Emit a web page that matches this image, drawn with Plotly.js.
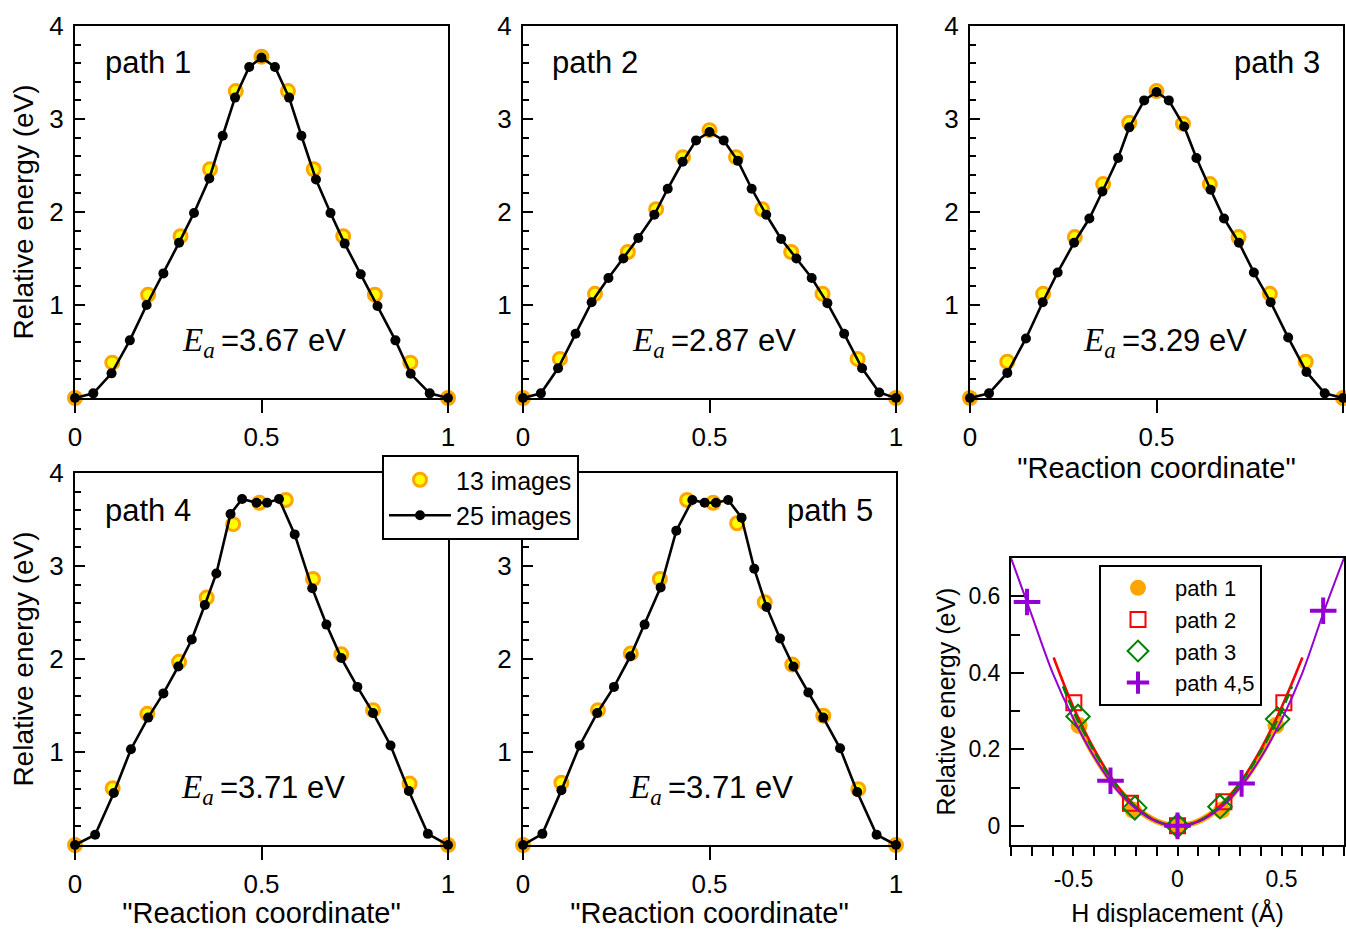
<!DOCTYPE html>
<html>
<head>
<meta charset="utf-8">
<script src="https://cdn.plot.ly/plotly-3.0.1.min.js"></script>
<style>html,body{margin:0;padding:0;background:#fff}#chart{width:1346px;height:929px}</style>
</head>
<body>
<div id="chart"></div>
<script>
// ---------------- data ----------------
const panelNames = ['path 1', 'path 2', 'path 3', 'path 4', 'path 5'];
const eaValues = ['3.67', '2.87', '3.29', '3.71', '3.71'];

// 25-image NEB paths (x = reaction coordinate, y = relative energy, eV)
const p1_x25 = [0, .049, .098, .147, .192, .237, .279, .319, .360, .396, .429, .467, .5, .536, .574, .607, .646, .685, .723, .766, .811, .859, .900, .951, 1];
const p1_y25 = [0, .05, .265, .62, 1.0, 1.34, 1.67, 1.99, 2.36, 2.82, 3.23, 3.56, 3.66, 3.56, 3.23, 2.82, 2.35, 1.99, 1.66, 1.33, .99, .62, .26, .05, 0];
const p2_x25 = [0, .048, .094, .141, .184, .229, .269, .309, .352, .388, .428, .464, .5, .538, .576, .613, .652, .692, .733, .774, .816, .861, .909, .955, 1];
const p2_y25 = [0, .05, .32, .69, 1.03, 1.29, 1.50, 1.72, 1.97, 2.25, 2.54, 2.77, 2.86, 2.77, 2.55, 2.25, 1.97, 1.71, 1.50, 1.29, 1.02, .69, .32, .06, 0];
const p3_x25 = [0, .051, .100, .150, .195, .235, .279, .320, .355, .397, .427, .467, .5, .533, .574, .607, .645, .681, .721, .761, .806, .853, .902, .951, 1];
const p3_y25 = [0, .05, .27, .64, 1.03, 1.35, 1.67, 1.93, 2.22, 2.58, 2.91, 3.20, 3.29, 3.20, 2.92, 2.58, 2.24, 1.93, 1.67, 1.35, 1.03, .65, .28, .05, 0];
const p4_x25 = [0, .054, .104, .150, .196, .237, .277, .313, .348, .379, .417, .448, .487, .515, .547, .589, .636, .674, .714, .757, .799, .846, .895, .946, 1];
const p4_y25 = [0, .11, .56, 1.03, 1.37, 1.63, 1.92, 2.21, 2.58, 2.92, 3.56, 3.72, 3.68, 3.68, 3.72, 3.34, 2.76, 2.37, 2.01, 1.70, 1.42, 1.07, .58, .12, 0];
const p5_x25 = [0, .052, .103, .152, .199, .244, .288, .326, .369, .411, .454, .487, .517, .550, .586, .620, .653, .689, .725, .765, .805, .850, .896, .948, 1];
const p5_y25 = [0, .12, .59, 1.07, 1.42, 1.70, 2.03, 2.37, 2.77, 3.38, 3.71, 3.68, 3.68, 3.71, 3.52, 2.97, 2.56, 2.22, 1.92, 1.64, 1.37, 1.04, .57, .11, 0];

// 13-image NEB paths
const p1_x13 = [0, .1, .196, .283, .362, .431, .5, .571, .640, .719, .804, .899, 1];
const p1_y13 = [0, .38, 1.11, 1.74, 2.46, 3.30, 3.67, 3.30, 2.46, 1.74, 1.11, .38, 0];
const p2_x13 = [0, .099, .193, .281, .357, .429, .5, .571, .641, .719, .803, .897, 1];
const p2_y13 = [0, .42, 1.12, 1.57, 2.03, 2.59, 2.88, 2.59, 2.03, 1.57, 1.12, .42, 0];
const p3_x13 = [0, .100, .196, .281, .357, .427, .5, .571, .643, .720, .804, .900, 1];
const p3_y13 = [0, .39, 1.12, 1.73, 2.30, 2.96, 3.30, 2.95, 2.30, 1.73, 1.12, .39, 0];
const p4_x13 = [0, .101, .194, .279, .353, .424, .494, .565, .638, .714, .799, .897, 1];
const p4_y13 = [0, .61, 1.41, 1.97, 2.66, 3.45, 3.68, 3.71, 2.86, 2.05, 1.45, .66, 0];
const p5_x13 = [0, .103, .201, .289, .367, .440, .510, .574, .648, .722, .805, .899, 1];
const p5_y13 = [0, .67, 1.45, 2.06, 2.86, 3.71, 3.68, 3.46, 2.61, 1.94, 1.39, .60, 0];

// H displacement panel: computed points
const h1_x = [-0.473, -0.213, 0, 0.212, 0.473];
const h1_y = [0.262, 0.041, 0, 0.041, 0.262];
const h2_x = [-0.498, -0.226, 0, 0.223, 0.511];
const h2_y = [0.322, 0.059, 0, 0.063, 0.322];
const h3_x = [-0.478, -0.205, 0, 0.204, 0.481];
const h3_y = [0.286, 0.047, 0, 0.050, 0.279];
const h45_x = [-0.723, -0.322, 0, 0.308, 0.700];
const h45_y = [0.585, 0.118, 0, 0.111, 0.562];

// H displacement panel: fitted curves
const f1_x = [-0.5, -0.4, -0.3, -0.2, -0.1, 0, 0.1, 0.2, 0.3, 0.4, 0.5];
const f1_y = [0.29, 0.185, 0.105, 0.047, 0.012, 0, 0.012, 0.047, 0.105, 0.185, 0.29];
const f2_x = [-0.595, -0.5, -0.4, -0.3, -0.2, -0.1, 0, 0.1, 0.2, 0.3, 0.4, 0.5, 0.6];
const f2_y = [0.44, 0.31, 0.20, 0.112, 0.05, 0.012, 0, 0.012, 0.05, 0.112, 0.20, 0.31, 0.44];
const f3_x = [-0.55, -0.5, -0.4, -0.3, -0.2, -0.1, 0, 0.1, 0.2, 0.3, 0.4, 0.5, 0.55];
const f3_y = [0.365, 0.30, 0.195, 0.11, 0.049, 0.012, 0, 0.012, 0.049, 0.11, 0.195, 0.30, 0.365];
const f45_x = [-0.8, -0.7, -0.6, -0.5, -0.4, -0.3, -0.2, -0.1, 0, 0.1, 0.2, 0.3, 0.4, 0.5, 0.6, 0.7, 0.8];
const f45_y = [0.70, 0.55, 0.40, 0.28, 0.18, 0.10, 0.045, 0.011, 0, 0.011, 0.044, 0.10, 0.178, 0.277, 0.40, 0.555, 0.70];

// ---------------- build ----------------
const FONT = 'Liberation Sans, Arial, Helvetica, sans-serif';
const W = 1346, H = 929;
const dx = (a, b) => [a / W, b / W];
const dy = (t, b) => [1 - b / H, 1 - t / H];

const panels = [
  {x25: p1_x25, y25: p1_y25, x13: p1_x13, y13: p1_y13},
  {x25: p2_x25, y25: p2_y25, x13: p2_x13, y13: p2_y13},
  {x25: p3_x25, y25: p3_y25, x13: p3_x13, y13: p3_y13},
  {x25: p4_x25, y25: p4_y25, x13: p4_x13, y13: p4_y13},
  {x25: p5_x25, y25: p5_y25, x13: p5_x13, y13: p5_y13}
];

const traces = [];
panels.forEach((p, i) => {
  const xa = i === 0 ? 'x' : 'x' + (i + 1);
  const ya = i === 0 ? 'y' : 'y' + (i + 1);
  traces.push({
    type: 'scatter', mode: 'markers', x: p.x13, y: p.y13, xaxis: xa, yaxis: ya,
    name: '13 images', showlegend: i === 0, legend: 'legend', cliponaxis: false,
    marker: {symbol: 'circle', size: 13, color: '#ffff00', line: {color: '#ffa500', width: 3}}
  });
  traces.push({
    type: 'scatter', mode: 'lines+markers', x: p.x25, y: p.y25, xaxis: xa, yaxis: ya,
    name: '25 images', showlegend: i === 0, legend: 'legend', cliponaxis: false,
    line: {color: '#000', width: 2.6},
    marker: {symbol: 'circle', size: 10, color: '#000'}
  });
});

const hx = 'x6', hy = 'y6';
traces.push({type: 'scatter', mode: 'lines', x: f1_x, y: f1_y, xaxis: hx, yaxis: hy, showlegend: false,
  line: {color: '#ffa500', width: 6, shape: 'spline'}});
traces.push({type: 'scatter', mode: 'markers', x: h1_x, y: h1_y, xaxis: hx, yaxis: hy, name: 'path 1',
  legend: 'legend2', cliponaxis: false, marker: {symbol: 'circle', size: 17, color: '#ffa500'}});
traces.push({type: 'scatter', mode: 'lines', x: f2_x, y: f2_y, xaxis: hx, yaxis: hy, showlegend: false,
  line: {color: '#ff0000', width: 2.6, shape: 'spline'}});
traces.push({type: 'scatter', mode: 'markers', x: h2_x, y: h2_y, xaxis: hx, yaxis: hy, name: 'path 2',
  legend: 'legend2', cliponaxis: false, marker: {symbol: 'square-open', size: 15, color: '#ff0000', line: {width: 2}}});
traces.push({type: 'scatter', mode: 'lines', x: f3_x, y: f3_y, xaxis: hx, yaxis: hy, showlegend: false,
  line: {color: '#008000', width: 2.6, dash: '10px,5px', shape: 'spline'}});
traces.push({type: 'scatter', mode: 'markers', x: h3_x, y: h3_y, xaxis: hx, yaxis: hy, name: 'path 3',
  legend: 'legend2', cliponaxis: false, marker: {symbol: 'diamond-open', size: 18, color: '#008000', line: {width: 2}}});
traces.push({type: 'scatter', mode: 'lines', x: f45_x, y: f45_y, xaxis: hx, yaxis: hy, showlegend: false,
  line: {color: '#9400d3', width: 2, shape: 'spline'}});
traces.push({type: 'scatter', mode: 'markers', x: h45_x, y: h45_y, xaxis: hx, yaxis: hy, name: 'path 4,5',
  legend: 'legend2', cliponaxis: false, marker: {symbol: 'cross-thin', size: 19, color: '#9400d3', line: {color: '#9400d3', width: 4}}});

// ---------------- axes ----------------
const baseAxis = {
  showline: true, linecolor: '#000', linewidth: 2, mirror: true,
  showgrid: false, zeroline: false,
  tickcolor: '#000', tickwidth: 2,
  tickfont: {family: FONT, size: 26, color: '#000'}
};
function rxAxis(domain, anchor, withTitle) {
  const ax = Object.assign({}, baseAxis, {
    domain, anchor, range: [0, 1], ticks: 'outside', ticklen: 13,
    tickvals: [0, 0.5, 1], ticktext: ['0', '0.5', '1'], ticklabelstandoff: 2
  });
  if (withTitle) ax.title = {text: '"Reaction coordinate"', font: {family: FONT, size: 29, color: '#000'}, standoff: 6};
  return ax;
}
function ryAxis(domain, anchor, withTitle, labels) {
  const ax = Object.assign({}, baseAxis, {
    domain, anchor, range: [0, 4], ticks: 'inside', ticklen: 10,
    tickvals: [1, 2, 3, 4], ticktext: labels, ticklabelstandoff: 4,
    minor: {tickmode: 'linear', tick0: 0, dtick: 0.2, ticks: 'inside', ticklen: 6, tickcolor: '#000', tickwidth: 2}
  });
  if (withTitle) ax.title = {text: 'Relative energy (eV)', font: {family: FONT, size: 28, color: '#000'}, standoff: 8};
  return ax;
}
const yLabels = ['1', '2', '3', '4'];
const yLabelsUnderLegend = ['1', '2', '3', ''];

const row1 = dy(26, 398), row2 = dy(473, 845);
const layout = {
  width: W, height: H,
  margin: {l: 0, r: 0, t: 0, b: 0},
  paper_bgcolor: '#fff', plot_bgcolor: '#fff',
  font: {family: FONT, color: '#000'},
  xaxis: rxAxis(dx(75, 448), 'y', false),
  yaxis: ryAxis(row1, 'x', true, yLabels),
  xaxis2: rxAxis(dx(523, 896), 'y2', false),
  yaxis2: ryAxis(row1, 'x2', false, yLabels),
  xaxis3: rxAxis(dx(970, 1343), 'y3', true),
  yaxis3: ryAxis(row1, 'x3', false, yLabels),
  xaxis4: rxAxis(dx(75, 448), 'y4', true),
  yaxis4: ryAxis(row2, 'x4', true, yLabels),
  xaxis5: rxAxis(dx(523, 896), 'y5', true),
  yaxis5: ryAxis(row2, 'x5', false, yLabelsUnderLegend),
  xaxis6: Object.assign({}, baseAxis, {
    domain: dx(1011, 1344), anchor: 'y6', range: [-0.8, 0.8],
    ticks: 'outside', ticklen: 9, tickvals: [-0.5, 0, 0.5], ticktext: ['-0.5', '0', '0.5'],
    ticklabelstandoff: 3, tickfont: {family: FONT, size: 23, color: '#000'},
    minor: {tickmode: 'linear', tick0: 0, dtick: 0.1, ticks: 'outside', ticklen: 9, tickcolor: '#000', tickwidth: 2},
    title: {text: 'H displacement (Å)', font: {family: FONT, size: 25, color: '#000'}, standoff: 14}
  }),
  yaxis6: Object.assign({}, baseAxis, {
    domain: dy(558, 845), anchor: 'x6', range: [-0.05, 0.7],
    ticks: 'inside', ticklen: 13, tickvals: [0, 0.2, 0.4, 0.6], ticktext: ['0', '0.2', '0.4', '0.6'],
    ticklabelstandoff: 4, tickfont: {family: FONT, size: 23, color: '#000'},
    minor: {tickmode: 'linear', tick0: 0, dtick: 0.1, ticks: 'inside', ticklen: 9, tickcolor: '#000', tickwidth: 2},
    title: {text: 'Relative energy (eV)', font: {family: FONT, size: 25, color: '#000'}, standoff: 6}
  }),
  legend: {
    x: 382 / W, y: 1 - 455 / H, xanchor: 'left', yanchor: 'top',
    bgcolor: '#fff', bordercolor: '#000', borderwidth: 2,
    font: {family: FONT, size: 25, color: '#000'}, itemwidth: 62, tracegroupgap: 0
  },
  legend2: {
    x: 1099 / W, y: 1 - 565 / H, xanchor: 'left', yanchor: 'top',
    bgcolor: '#fff', bordercolor: '#000', borderwidth: 2,
    font: {family: FONT, size: 22, color: '#000'}, itemwidth: 64, tracegroupgap: 0
  },
  annotations: []
};

// panel labels and activation-energy texts
const labelPos = [
  {x: 0.075, y: 3.61, anchor: 'left'},
  {x: 0.072, y: 3.61, anchor: 'left'},
  {x: 0.945, y: 3.61, anchor: 'right'},
  {x: 0.075, y: 3.60, anchor: 'left'},
  {x: 0.943, y: 3.60, anchor: 'right'}
];
const eaPos = [0.507, 0.513, 0.524, 0.505, 0.505];
panelNames.forEach((name, i) => {
  const xr = i === 0 ? 'x' : 'x' + (i + 1);
  const yr = i === 0 ? 'y' : 'y' + (i + 1);
  layout.annotations.push({
    xref: xr, yref: yr, x: labelPos[i].x, y: labelPos[i].y, xanchor: labelPos[i].anchor, yanchor: 'middle',
    text: name, showarrow: false, font: {family: FONT, size: 31, color: '#000'}
  });
  layout.annotations.push({
    xref: xr, yref: yr, x: eaPos[i], y: 0.60, xanchor: 'center', yanchor: 'middle',
    text: '<span style="font-family:\'Liberation Serif\',\'Times New Roman\',serif;font-style:italic;font-size:33px">E<sub>a</sub></span>&#8201;=' + eaValues[i] + ' eV',
    showarrow: false, font: {family: FONT, size: 31, color: '#000'}
  });
});

Plotly.newPlot('chart', traces, layout, {displayModeBar: false, staticPlot: true});
</script>
</body>
</html>
